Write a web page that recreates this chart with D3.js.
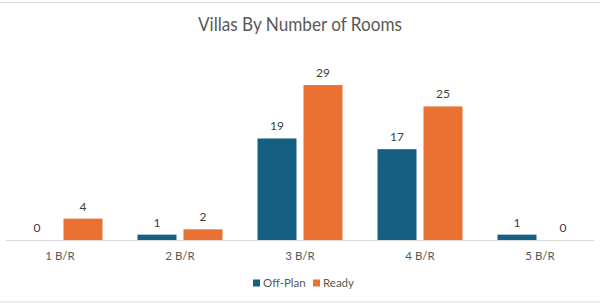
<!DOCTYPE html>
<html><head><meta charset="utf-8">
<script src="https://cdn.jsdelivr.net/npm/d3@7"></script>
<style>html,body{margin:0;padding:0;background:#fff;}svg{display:block;}</style>
</head><body>
<script>
const categories = ["1 B/R","2 B/R","3 B/R","4 B/R","5 B/R"];
const seriesNames = ["Off-Plan","Ready"];
const offPlan = [0,1,19,17,1];
const ready = [4,2,29,25,0];
const colors = ["#156082","#E97132"];

const W=600,H=304;
const svg=d3.select("body").append("svg").attr("width",W).attr("height",H);
svg.append("rect").attr("x",-1).attr("y",2.5).attr("width",W+2).attr("height",299.5)
  .attr("fill","#fff").attr("stroke","#d9d9d9").attr("stroke-width",1);

const font="Lato, 'Open Sans', 'Liberation Sans', sans-serif";
svg.append("text").attr("x",300).attr("y",31).attr("text-anchor","middle")
  .attr("font-family",font).attr("font-size",19).attr("fill","#595959")
  .attr("textLength",204).attr("lengthAdjust","spacingAndGlyphs")
  .text("Villas By Number of Rooms");

const x=d3.scaleBand().domain(categories).range([0,600]);
const y=d3.scaleLinear().domain([0,35]).range([240,53]);
const barW=39, gap=7;
const series=[offPlan,ready];

series.forEach((vals,si)=>{
  const off = si===0 ? -gap/2-barW : gap/2;
  const g=svg.append("g");
  g.selectAll("rect").data(vals).join("rect")
    .attr("x",(d,i)=>x(categories[i])+x.bandwidth()/2+off)
    .attr("y",d=>y(d)).attr("width",barW).attr("height",d=>y(0)-y(d))
    .attr("fill",colors[si]);
  g.selectAll("text").data(vals).join("text")
    .attr("x",(d,i)=>x(categories[i])+x.bandwidth()/2+off+barW/2)
    .attr("y",d=>y(d)-8).attr("text-anchor","middle")
    .attr("font-family",font).attr("font-size",12).attr("fill","#404040")
    .text(d=>d);
});

const axis=d3.axisBottom(x).tickSize(0).tickPadding(0);
const ag=svg.append("g").attr("transform","translate(0,240)").call(axis);
ag.select(".domain").attr("stroke","#d9d9d9").attr("d","M6,0.5H594");
ag.selectAll("text").attr("font-family",font).attr("font-size",11.5).attr("fill","#595959")
  .attr("dy",null).attr("y",20);

const legX=[253,313];
seriesNames.forEach((n,i)=>{
  svg.append("rect").attr("x",legX[i]).attr("y",279.5).attr("width",7).attr("height",7).attr("fill",colors[i]);
  svg.append("text").attr("x",legX[i]+10).attr("y",287).attr("font-family",font)
    .attr("font-size",11.5).attr("fill","#595959").text(n);
});
</script>
</body></html>
